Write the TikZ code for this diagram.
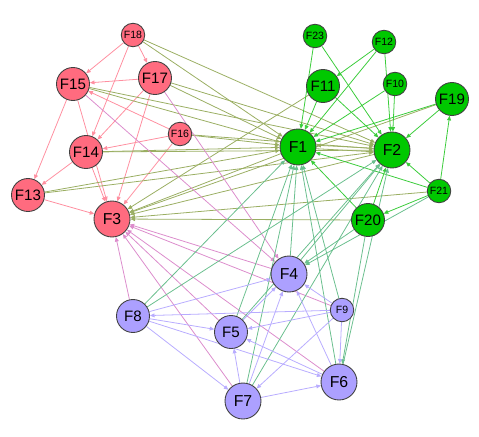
\documentclass[tikz,border=0pt]{standalone}
\usepackage{fontspec}
\setmainfont{Liberation Sans}
\usepackage{tikz}
\usetikzlibrary{arrows.meta, backgrounds}
\definecolor{NETred}{HTML}{FF6B7F}
\definecolor{NETgreen}{HTML}{00C800}
\definecolor{NETpurple}{HTML}{ACA0FF}
\definecolor{NETedgeRR}{HTML}{FF8FA0}
\definecolor{NETedgeRG}{HTML}{9AAE62}
\definecolor{NETedgeGG}{HTML}{3ACC3A}
\definecolor{NETedgePP}{HTML}{B8ACFF}
\definecolor{NETedgeRP}{HTML}{DC8CCC}
\definecolor{NETedgeGP}{HTML}{6ABF8E}

\begin{document}
\begin{tikzpicture}[
    x=0.02cm, y=-0.02cm,
    fnode/.style={circle, draw=black!75, line width=0.5pt, inner sep=0pt,
                  text=black},
    bignode/.style={fnode, minimum size=0.72cm, font=\fontsize{9}{9}\selectfont},
    midnode/.style={fnode, minimum size=0.66cm, font=\fontsize{8.6}{9}\selectfont},
    smallnode/.style={fnode, minimum size=0.47cm, font=\fontsize{6}{6}\selectfont},
    link/.style={line width=0.45pt, -{Triangle[length=2.6pt, width=2.2pt]}},
]
\useasboundingbox (0,0) rectangle (479,436);

% --- Red group ---
\node[bignode, fill=NETred] (F3) at (112,219) {F3};
\node[midnode, fill=NETred] (F13) at (28,195) {F13};
\node[midnode, fill=NETred] (F14) at (86,152) {F14};
\node[midnode, fill=NETred] (F15) at (73,84) {F15};
\node[smallnode, fill=NETred] (F16) at (180,134) {F16};
\node[midnode, fill=NETred] (F17) at (155,78) {F17};
\node[smallnode, fill=NETred] (F18) at (133,35) {F18};

% --- Green group ---
\node[bignode, fill=NETgreen] (F1) at (298,147) {F1};
\node[bignode, fill=NETgreen] (F2) at (392,150) {F2};
\node[smallnode, fill=NETgreen] (F10) at (395,84) {F10};
\node[midnode, fill=NETgreen] (F11) at (323,86) {F11};
\node[smallnode, fill=NETgreen] (F12) at (384,42) {F12};
\node[midnode, fill=NETgreen] (F19) at (452,99) {F19};
\node[midnode, fill=NETgreen] (F20) at (368,220) {F20};
\node[smallnode, fill=NETgreen] (F21) at (439,191) {F21};
\node[smallnode, fill=NETgreen] (F23) at (315,36) {F23};

% --- Purple group ---
\node[bignode, fill=NETpurple] (F4) at (289,274) {F4};
\node[midnode, fill=NETpurple] (F5) at (231,332) {F5};
\node[bignode, fill=NETpurple] (F6) at (339,382) {F6};
\node[bignode, fill=NETpurple] (F7) at (243,401) {F7};
\node[midnode, fill=NETpurple] (F8) at (133,316) {F8};
\node[smallnode, fill=NETpurple] (F9) at (342,310) {F9};

% --- Edges, behind the nodes ---
\begin{scope}[on background layer]
% red -> red
\foreach \a/\b in {F18/F15, F18/F17, F18/F14, F17/F15, F17/F14, F17/F3,
                   F16/F15, F16/F14, F16/F3, F15/F13, F15/F3, F14/F13,
                   F14/F3, F13/F3}
    \draw[link, NETedgeRR] (\a) -- (\b);
% red <-> green
\foreach \a/\b in {F18/F1, F18/F2, F15/F1, F15/F2, F17/F1, F17/F2,
                   F16/F1, F16/F2, F14/F1, F14/F2, F13/F1, F13/F2,
                   F1/F3, F2/F3, F20/F3, F11/F3, F21/F3, F19/F3}
    \draw[link, NETedgeRG] (\a) -- (\b);
% green -> green
\foreach \a/\b in {F23/F1, F23/F2, F12/F11, F12/F1, F12/F2, F11/F1, F11/F2,
                   F10/F1, F10/F2, F19/F1, F19/F2, F21/F19, F21/F2, F21/F1,
                   F21/F20, F20/F1, F20/F2}
    \draw[link, NETedgeGG] (\a) -- (\b);
\draw[link, NETedgeRG] ([yshift=1pt]F2.west) -- ([yshift=1pt]F1.east);
\draw[link, NETedgeRG] ([yshift=-1pt]F1.east) -- ([yshift=-1pt]F2.west);
% purple <-> red
\foreach \a/\b in {F4/F3, F8/F3, F5/F3, F6/F3, F7/F3, F9/F3, F15/F4, F17/F4}
    \draw[link, NETedgeRP] (\a) -- (\b);
% purple <-> green
\foreach \a/\b in {F8/F1, F8/F2, F5/F1, F5/F2, F7/F1, F7/F2, F6/F1, F6/F2,
                   F4/F1, F4/F2, F9/F1, F20/F4, F21/F4, F20/F6}
    \draw[link, NETedgeGP] (\a) -- (\b);
% purple -> purple
\foreach \a/\b in {F8/F4, F8/F5, F8/F7, F8/F6, F9/F4, F9/F5, F9/F6, F9/F8,
                   F9/F7, F7/F5, F7/F4, F7/F6, F6/F4, F6/F5, F5/F4}
    \draw[link, NETedgePP] (\a) -- (\b);
\end{scope}

\end{tikzpicture}
\end{document}
